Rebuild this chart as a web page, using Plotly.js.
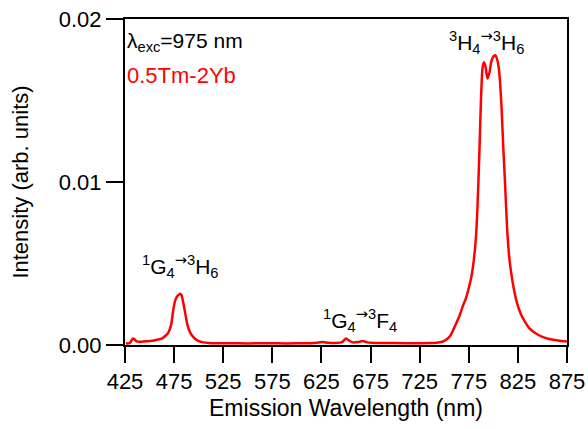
<!DOCTYPE html>
<html>
<head>
<meta charset="utf-8">
<script src="https://cdn.plot.ly/plotly-3.0.1.min.js"></script>
<style>html,body{margin:0;padding:0;background:#fff;}#chart{width:588px;height:429px;}</style>
</head>
<body>
<div id="chart"></div>
<script>
// Emission wavelength (nm)
const wavelength = [426, 430, 433, 435, 437, 440, 445, 453, 458, 463, 466, 469, 472, 474, 476, 477.5, 479, 481, 482.6, 484, 486, 488, 490, 493, 496, 500, 505, 510, 520, 540, 560, 580, 600, 615, 626, 632, 640, 646, 650, 653, 657, 662, 667, 672, 680, 700, 720, 735, 742, 748, 752, 756, 759, 762, 765, 769, 772, 775, 778, 781, 783, 784.5, 786, 787.5, 789, 790.5, 792, 794, 796, 798, 800, 802, 804, 805.5, 807, 808.5, 810, 812, 814, 816, 818, 821, 824, 828, 832, 837, 843, 850, 858, 866, 875];
// Intensity (arb. units)
const intensity = [0.0001, 0.00012, 0.0004, 0.00033, 0.00022, 0.0002, 0.00022, 0.00026, 0.00033, 0.00041, 0.00055, 0.00075, 0.00125, 0.0021, 0.0027, 0.00293, 0.00305, 0.00315, 0.00305, 0.0027, 0.00205, 0.0014, 0.00095, 0.0006, 0.0004, 0.00024, 0.00016, 0.00013, 0.00011, 0.0001, 0.0001, 0.0001, 0.0001, 0.00011, 0.00018, 0.00014, 0.00013, 0.00018, 0.0004, 0.00028, 0.00016, 0.00018, 0.00024, 0.00016, 0.00013, 0.00012, 0.00011, 0.00012, 0.00014, 0.0002, 0.00032, 0.00055, 0.0009, 0.0013, 0.0017, 0.0024, 0.00285, 0.0035, 0.0043, 0.0057, 0.0073, 0.0095, 0.0122, 0.0152, 0.0170, 0.01735, 0.0171, 0.01635, 0.0167, 0.0174, 0.0177, 0.01778, 0.0175, 0.0170, 0.0160, 0.0144, 0.0123, 0.0098, 0.0072, 0.0055, 0.0045, 0.0034, 0.0026, 0.0019, 0.00145, 0.001, 0.00072, 0.0005, 0.00035, 0.00027, 0.00021];

const xTicks = [425, 475, 525, 575, 625, 675, 725, 775, 825, 875];
const yTicks = [0, 0.01, 0.02];
const yTickLabels = ['0.00', '0.01', '0.02'];

const arrow = '<sup><span style="font-family:DejaVu Sans">→</span></sup>';
const annoTexts = {
  exc: 'λ<sub>exc</sub>=975 nm',
  sample: '0.5Tm-2Yb',
  h4: '<sup>3</sup>H<sub>4</sub>' + arrow + '<sup>3</sup>H<sub>6</sub>',
  g4h6: '<sup>1</sup>G<sub>4</sub>' + arrow + '<sup>3</sup>H<sub>6</sub>',
  g4f4: '<sup>1</sup>G<sub>4</sub>' + arrow + '<sup>3</sup>F<sub>4</sub>'
};

const font = 'Liberation Sans, Arial, Helvetica, sans-serif';

const trace = {
  x: wavelength,
  y: intensity,
  type: 'scatter',
  mode: 'lines',
  line: {color: '#ff0000', width: 2.5, shape: 'spline', smoothing: 0.6},
  hoverinfo: 'skip'
};

const layout = {
  width: 588,
  height: 429,
  margin: {l: 125, r: 21, t: 19, b: 84},
  paper_bgcolor: '#ffffff',
  plot_bgcolor: '#ffffff',
  showlegend: false,
  font: {family: font, color: '#000', size: 22},
  xaxis: {
    range: [425, 875],
    tickvals: xTicks,
    ticks: 'outside',
    ticklen: 16,
    tickwidth: 2,
    tickcolor: '#000',
    showline: true,
    linecolor: '#000',
    linewidth: 2,
    mirror: true,
    showgrid: false,
    zeroline: false,
    tickfont: {size: 22, family: font},
    title: {text: 'Emission Wavelength (nm)', font: {size: 23, family: font}, standoff: 6},
    automargin: false
  },
  yaxis: {
    range: [0, 0.02],
    tickvals: yTicks,
    ticktext: yTickLabels,
    ticks: 'outside',
    ticklen: 17,
    tickwidth: 2,
    tickcolor: '#000',
    showline: true,
    linecolor: '#000',
    linewidth: 2,
    mirror: true,
    showgrid: false,
    zeroline: false,
    tickfont: {size: 22, family: font},
    title: {text: 'Intensity (arb. units)', font: {size: 22, family: font}, standoff: 24},
    automargin: false
  },
  annotations: [
    {xref: 'paper', yref: 'paper', x: 0.0, y: 0.929, xanchor: 'left', yanchor: 'middle', text: annoTexts.exc, showarrow: false, font: {size: 21, color: '#000', family: font}},
    {xref: 'paper', yref: 'paper', x: 0.0, y: 0.828, xanchor: 'left', yanchor: 'middle', text: annoTexts.sample, showarrow: false, font: {size: 22, color: '#ff0000', family: font}},
    {xref: 'x', yref: 'y', x: 793, y: 0.0186, xanchor: 'center', yanchor: 'middle', text: annoTexts.h4, showarrow: false, font: {size: 21, color: '#000', family: font}},
    {xref: 'x', yref: 'y', x: 482, y: 0.00485, xanchor: 'center', yanchor: 'middle', text: annoTexts.g4h6, showarrow: false, font: {size: 21, color: '#000', family: font}},
    {xref: 'x', yref: 'y', x: 664, y: 0.00153, xanchor: 'center', yanchor: 'middle', text: annoTexts.g4f4, showarrow: false, font: {size: 21, color: '#000', family: font}}
  ]
};

Plotly.newPlot('chart', [trace], layout, {staticPlot: true, displayModeBar: false});
</script>
</body>
</html>
